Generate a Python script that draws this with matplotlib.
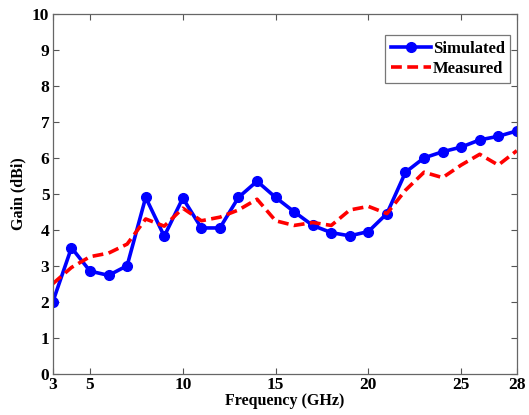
import matplotlib
matplotlib.use("Agg")
import matplotlib.pyplot as plt

# Frequency points (GHz)
freq = [3, 4, 5, 6, 7, 8, 9, 10, 11, 12, 13, 14, 15, 16, 17, 18, 19, 20,
        21, 22, 23, 24, 25, 26, 27, 28]

# Gain values (dBi)
simulated = [2.0, 3.5, 2.85, 2.73, 3.0, 4.9, 3.82, 4.88, 4.05, 4.05, 4.9, 5.35,
             4.9, 4.5, 4.12, 3.92, 3.83, 3.95, 4.45, 5.6, 6.0, 6.17, 6.3, 6.5,
             6.6, 6.75]
measured = [2.5, 2.95, 3.25, 3.35, 3.6, 4.3, 4.1, 4.6, 4.25, 4.35, 4.55, 4.85,
            4.25, 4.12, 4.2, 4.12, 4.55, 4.65, 4.45, 5.1, 5.6, 5.45, 5.8, 6.1,
            5.8, 6.2]

xticks = [3, 5, 10, 15, 20, 25, 28]
yticks = list(range(0, 11))

plt.rcParams["font.family"] = ["Liberation Serif", "DejaVu Serif"]
plt.rcParams["font.weight"] = "bold"

fig = plt.figure(figsize=(5.29, 4.15), dpi=100)
ax = fig.add_axes([0.1, 0.1, 0.877, 0.866])

ax.plot(freq, simulated, color="#0000ff", lw=2.6, marker="o", ms=7,
        label="Simulated")
ax.plot(freq, measured, color="#ff0000", lw=2.6, ls=(0, (3, 1.5)),
        label="Measured")

ax.set_xlim(3, 28)
ax.set_ylim(0, 10)
ax.set_xticks(xticks)
ax.set_yticks(yticks)
ax.tick_params(direction="in", top=True, right=True, labelsize=12.5,
               length=4, width=0.8, colors="#555555", labelcolor="black",
               pad=2.5)
for s in ax.spines.values():
    s.set_color("#666666")
    s.set_linewidth(0.9)
for lbl in ax.get_xticklabels() + ax.get_yticklabels():
    lbl.set_fontweight("bold")

ax.set_xlabel("Frequency (GHz)", fontsize=11.5, fontweight="bold", labelpad=0)
ax.set_ylabel("Gain (dBi)", fontsize=11.5, fontweight="bold", labelpad=4)

leg = ax.legend(loc="upper right", bbox_to_anchor=(0.997, 0.955), fontsize=12,
                fancybox=False, handlelength=2.4, borderpad=0.35,
                labelspacing=0.25, handletextpad=0.1, borderaxespad=0.3)
leg.get_frame().set_edgecolor("#555555")
leg.get_frame().set_linewidth(0.9)
for t in leg.get_texts():
    t.set_fontweight("bold")

fig.savefig("out.png", dpi=100)
